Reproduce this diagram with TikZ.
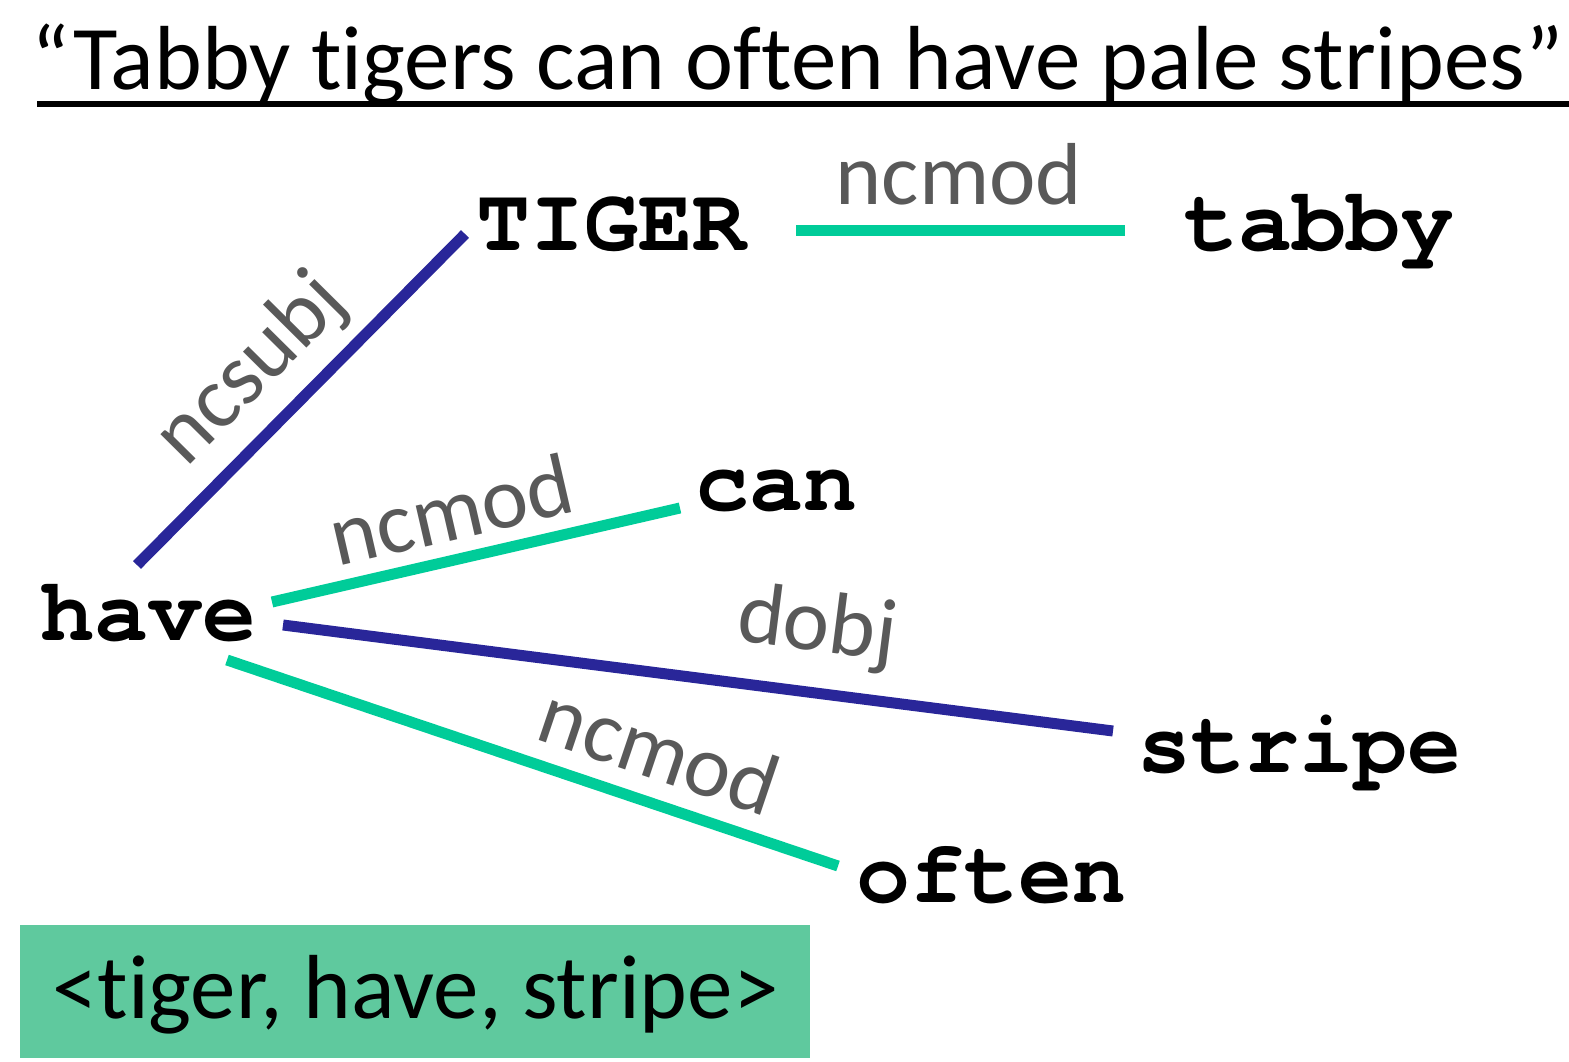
\documentclass[tikz,border=0pt]{standalone}
\usepackage{fontspec}
\setmainfont{Carlito}[Ligatures=NoCommon]
\newfontfamily\wordfont{texgyrecursor}[Extension=.otf, UprightFont=*-regular, BoldFont=*-bold]
\definecolor{navyedge}{RGB}{41,38,153}
\definecolor{greenedge}{RGB}{0,204,153}
\definecolor{labelgray}{RGB}{89,89,89}
\definecolor{boxgreen}{RGB}{95,201,158}
\begin{document}
\begin{tikzpicture}[x=1pt,y=-1pt,
  word/.style={font=\wordfont\bfseries\fontsize{90}{100}\selectfont, anchor=base, inner sep=0pt},
  rel/.style={font=\fontsize{88}{100}\selectfont, text=labelgray, sloped, inner sep=0pt, text depth=0pt},
  subjedge/.style={draw=navyedge, line width=11pt},
  modedge/.style={draw=greenedge, line width=11pt}]
\useasboundingbox (0,0) rectangle (1569,1062);

% sentence and its underline
\node[anchor=base, inner sep=0pt, font=\fontsize{91}{100}\selectfont] (title) at (797.5,90)
  {“Tabby tigers can often have pale stripes”};
\draw[line width=6pt] (37,104.5) -- (1569,104.5);

% words of the parse
\node[word] (TIGER)  at (611.5,250) {TIGER};
\node[word] (tabby)  at (1319,250)  {tabby};
\node[word] (can)    at (776.5,510) {can};
\node[word] (have)   at (148.5,640) {have};
\node[word] (stripe) at (1299.5,772) {stripe};
\node[word] (often)  at (991.5,902) {often};

% dependency relations
\draw[subjedge] ([shift={(-11.5,-75)}]have.base) --
  node[rel, pos=0.47, above=27pt] {ncsubj} ([shift={(-146.5,-16)}]TIGER.base);
\draw[modedge] ([shift={(184.5,-20)}]TIGER.base) --
  node[rel, pos=0.495, above=20pt] {ncmod} ([shift={(-194,-20)}]tabby.base);
\draw[modedge] ([shift={(123.5,-38)}]have.base) --
  node[rel, pos=0.466, above=14pt] {ncmod} ([shift={(-96.5,-2)}]can.base);
\draw[subjedge] ([shift={(134.5,-15)}]have.base) --
  node[rel, pos=0.634, above=36pt] {dobj} ([shift={(-186.5,-41)}]stripe.base);
\draw[modedge] ([shift={(78.5,20)}]have.base) --
  node[rel, pos=0.68, above=18pt] {ncmod} ([shift={(-153.5,-36)}]often.base);

% extracted triple
\node[fill=boxgreen, anchor=north west, inner sep=0pt, minimum width=790pt,
  text height=93pt, text depth=40pt, font=\fontsize{91}{100}\selectfont] (triple)
  at (20,925) {<tiger, have, stripe>};
\end{tikzpicture}
\end{document}
